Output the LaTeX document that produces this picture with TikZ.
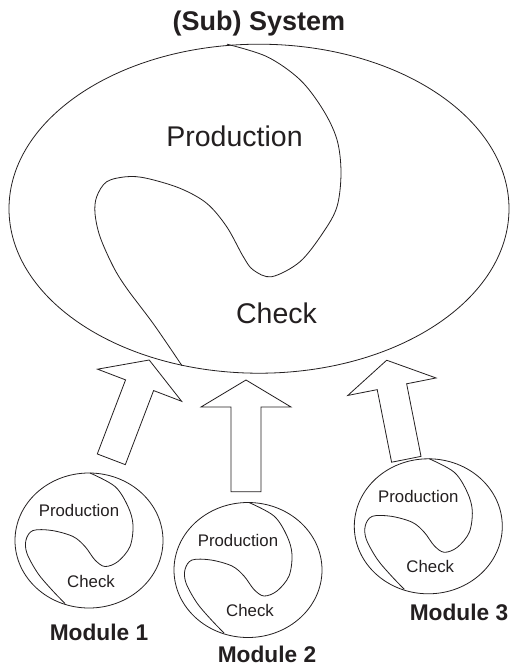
\documentclass[tikz,border=0pt]{standalone}
\usepackage{fontspec}
\setmainfont{Liberation Sans}
\usetikzlibrary{shapes.geometric}
\definecolor{inkgray}{HTML}{231F20}
\begin{document}
\begin{tikzpicture}[x=1pt, y=1pt, line width=0.8pt,
  outline/.style={draw=inkgray, line width=0.8pt},
  title/.style={anchor=base, inner sep=0, text=inkgray, font=\bfseries\fontsize{27}{30}\selectfont},
  biglabel/.style={anchor=base, inner sep=0, text=inkgray, font=\fontsize{28.5}{30}\selectfont},
  smalllabel/.style={anchor=base, inner sep=0, text=inkgray, font=\fontsize{16.8}{18}\selectfont},
  modlabel/.style={anchor=base, inner sep=0, text=inkgray, font=\bfseries\fontsize{22.7}{25}\selectfont},
  % a small subsystem: ring, dividing line and the two parts
  pics/module/.style={code={
    \node[ellipse, outline, minimum width=148pt, minimum height=135pt, inner sep=0pt] (-ring) at (0,0) {};
    \draw[inkgray] plot[smooth, tension=0.55] coordinates {
      (1,67.5) (26,54) (39,34) (44,15.5) (41,-6) (29,-21) (16,-26)
      (6,-19.5) (-4,-6) (-16,4) (-37,10) (-56,10) (-63,0.5) (-62,-13)
      (-51,-33) (-37,-49.5) (-24,-63)};
    \node[smalllabel] (-prod) at (-10,24) {Production};
    \node[smalllabel] (-check) at (2,-46.5) {Check};
  }},
  % hollow block arrow pointing along local +y, length #1
  pics/blockarrow/.style={code={
    \draw[outline, line join=miter]
      (-15,0) -- (-15,#1-27) -- (-45,#1-27) -- (0,#1) -- (45,#1-27) -- (15,#1-27) -- (15,0) -- cycle;
  }}
]
\useasboundingbox (0,0) rectangle (511,-667);

% the whole (sub) system
\node[title] (systitle) at (259,-30.7) {(Sub) System};
\node[ellipse, outline, minimum width=500pt, minimum height=329pt, inner sep=0pt] (system) at (259,-208.7) {};
\begin{scope}[shift={(259,-208.7)}]
  \draw[inkgray] plot[smooth, tension=0.55] coordinates {
    (-32,164.5) (8,152) (41,129) (64,99) (78,69) (82,36) (78,2) (64,-24) (41,-53)
    (12.7,-68) (-5.7,-61.3) (-15.7,-48) (-32.3,-18) (-52.3,5.4) (-79,20.4)
    (-112.3,30.4) (-132.3,32) (-152.3,27) (-162.3,12) (-164,-4.6) (-159,-28)
    (-145.7,-58) (-132.3,-79.6) (-105,-116) (-77,-157)};
\end{scope}
\node[biglabel] (sysprod) at (234.5,-146.7) {Production};
\node[biglabel] (syscheck) at (276.5,-323.3) {Check};

% arrows from the modules up to the system
\pic[rotate=-20.9] (a1) at (111.3,-459.3) {blockarrow=106.3};
\pic (a2) at (246,-491.7) {blockarrow=111.7};
\pic[rotate=11.2] (a3) at (406.3,-459.3) {blockarrow=101};

% the three modules
\pic (m1) at (89,-540.5) {module};
\pic (m2) at (248,-570) {module};
\pic (m3) at (428.3,-526.3) {module};

\node[modlabel] (lab1) at (99,-640.7) {Module 1};
\node[modlabel] (lab2) at (267,-662.7) {Module 2};
\node[modlabel] (lab3) at (459,-620) {Module 3};
\end{tikzpicture}
\end{document}
